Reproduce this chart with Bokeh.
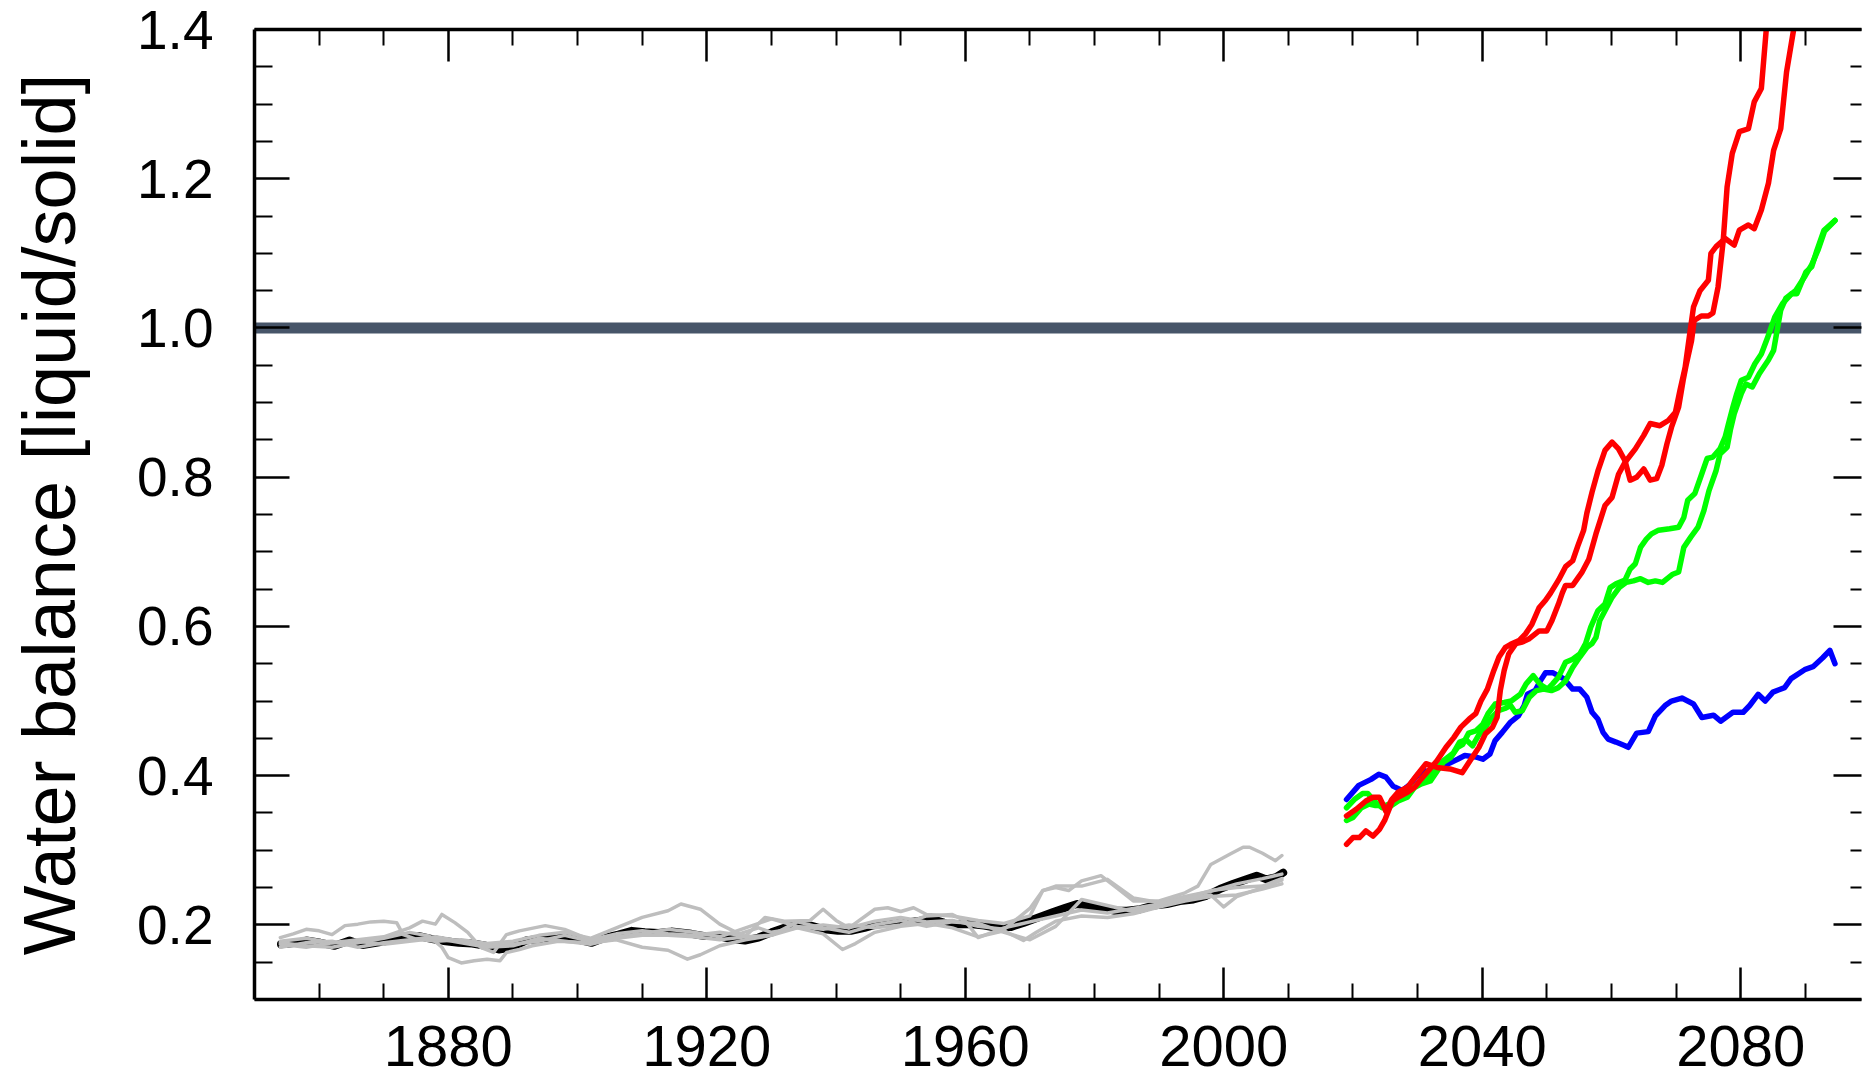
from bokeh.plotting import figure
from bokeh.models import (Range1d, FixedTicker, LinearAxis, Span, PrintfTickFormatter,
                          CustomLabelingPolicy)
from bokeh.embed import file_html
from bokeh.resources import INLINE

# ---------------- data ----------------
x_major = [1880, 1920, 1960, 2000, 2040, 2080]
x_minor = [1860, 1870, 1890, 1900, 1910, 1930, 1940, 1950, 1970, 1980, 1990,
           2010, 2020, 2030, 2050, 2060, 2070, 2090, 2100]
y_major = [0.2, 0.4, 0.6, 0.8, 1.0, 1.2, 1.4]
y_minor = [0.1, 0.15, 0.25, 0.3, 0.35, 0.45, 0.5, 0.55, 0.65, 0.7, 0.75, 0.85,
           0.9, 0.95, 1.05, 1.1, 1.15, 1.25, 1.3, 1.35]
threshold = 1.0

black_mean = [(1854.1, 0.174), (1856.5, 0.176), (1858.0, 0.179), (1860.2, 0.176), (1862.4, 0.172),
              (1864.7, 0.179), (1866.7, 0.173), (1868.8, 0.176), (1870.8, 0.179), (1872.9, 0.183),
              (1875.5, 0.185), (1877.5, 0.181), (1879.6, 0.178), (1881.6, 0.176), (1883.7, 0.175),
              (1885.8, 0.172), (1887.8, 0.167), (1889.9, 0.170), (1892.0, 0.179), (1894.0, 0.181),
              (1896.0, 0.182), (1898.1, 0.183), (1900.2, 0.180), (1902.2, 0.176), (1904.3, 0.183),
              (1906.3, 0.187), (1908.4, 0.192), (1910.4, 0.190), (1912.5, 0.189), (1914.5, 0.191),
              (1917.6, 0.188), (1919.7, 0.185), (1921.8, 0.185), (1923.8, 0.181), (1925.9, 0.179),
              (1928.0, 0.183), (1930.0, 0.190), (1932.0, 0.196), (1934.1, 0.201), (1936.1, 0.199),
              (1938.2, 0.194), (1940.3, 0.192), (1942.3, 0.192), (1944.4, 0.196), (1946.4, 0.201),
              (1948.5, 0.203), (1950.5, 0.203), (1952.6, 0.205), (1954.7, 0.208), (1956.7, 0.203),
              (1958.8, 0.201), (1960.8, 0.201), (1962.9, 0.199), (1964.9, 0.196), (1967.0, 0.197),
              (1969.1, 0.203), (1971.3, 0.210), (1973.5, 0.217), (1975.5, 0.223), (1977.3, 0.228),
              (1978.8, 0.226), (1980.9, 0.223), (1983.0, 0.219), (1985.0, 0.219), (1987.1, 0.221),
              (1989.1, 0.226), (1991.2, 0.228), (1993.2, 0.232), (1995.3, 0.234), (1997.3, 0.239),
              (1999.4, 0.248), (2001.5, 0.255), (2003.5, 0.261), (2005.1, 0.266), (2006.6, 0.261),
              (2008.1, 0.264), (2009.2, 0.270)]

grey_1 = [(1854, 0.183), (1856, 0.188), (1858, 0.194), (1860, 0.192), (1862, 0.187), (1864, 0.199),
          (1866, 0.201), (1868, 0.204), (1870, 0.205), (1872, 0.203), (1873, 0.187), (1875, 0.181),
          (1878, 0.178), (1882, 0.180), (1886, 0.175), (1890, 0.178), (1894, 0.186), (1898, 0.190),
          (1902, 0.182), (1906, 0.196), (1910, 0.210), (1914, 0.219), (1916, 0.228), (1919, 0.221),
          (1922, 0.201), (1925, 0.188), (1928, 0.196), (1930, 0.190), (1934, 0.196), (1938, 0.200),
          (1942, 0.196), (1946, 0.205), (1950, 0.210), (1954, 0.204), (1958, 0.206), (1962, 0.198),
          (1966, 0.194), (1970, 0.222), (1972, 0.246), (1974, 0.250), (1976, 0.246), (1978, 0.259),
          (1981, 0.266), (1984, 0.246), (1986, 0.232), (1990, 0.232), (1994, 0.243), (1996, 0.252),
          (1998, 0.281), (2001, 0.295), (2003, 0.304), (2004, 0.304), (2006, 0.296), (2008, 0.286),
          (2009, 0.293)]
grey_2 = [(1854, 0.178), (1858, 0.182), (1862, 0.176), (1866, 0.180), (1870, 0.184), (1874, 0.196),
          (1876, 0.205), (1878, 0.201), (1879, 0.214), (1881, 0.203), (1883, 0.190), (1885, 0.170),
          (1887, 0.163), (1889, 0.187), (1891, 0.192), (1895, 0.199), (1898, 0.194), (1902, 0.180),
          (1906, 0.188), (1910, 0.192), (1914, 0.188), (1918, 0.186), (1922, 0.190), (1926, 0.185),
          (1929, 0.210), (1932, 0.205), (1936, 0.206), (1938, 0.221), (1940, 0.206), (1942, 0.196),
          (1946, 0.221), (1948, 0.223), (1950, 0.218), (1952, 0.223), (1954, 0.214), (1958, 0.212),
          (1962, 0.206), (1966, 0.202), (1970, 0.212), (1972, 0.246), (1974, 0.252), (1978, 0.252),
          (1982, 0.261), (1986, 0.236), (1990, 0.230), (1994, 0.238), (1998, 0.245), (2002, 0.255),
          (2006, 0.262), (2009, 0.268)]
grey_3 = [(1854, 0.176), (1858, 0.172), (1862, 0.170), (1866, 0.176), (1870, 0.182), (1874, 0.190),
          (1877, 0.185), (1879, 0.170), (1880, 0.156), (1882, 0.149), (1884, 0.152), (1886, 0.154),
          (1888, 0.152), (1889, 0.163), (1891, 0.167), (1893, 0.172), (1897, 0.178), (1902, 0.176),
          (1906, 0.180), (1910, 0.170), (1914, 0.166), (1917, 0.154), (1919, 0.160), (1922, 0.172),
          (1926, 0.180), (1930, 0.186), (1934, 0.196), (1938, 0.188), (1941, 0.167), (1943, 0.175),
          (1946, 0.190), (1950, 0.198), (1954, 0.202), (1958, 0.196), (1962, 0.184), (1966, 0.192),
          (1969, 0.179), (1971, 0.190), (1974, 0.205), (1978, 0.212), (1982, 0.210), (1986, 0.215),
          (1990, 0.224), (1994, 0.232), (1998, 0.238), (2002, 0.240), (2006, 0.248), (2009, 0.255)]
grey_4 = [(1854, 0.170), (1858, 0.176), (1862, 0.178), (1866, 0.170), (1870, 0.176), (1874, 0.180),
          (1878, 0.184), (1882, 0.178), (1886, 0.172), (1890, 0.174), (1894, 0.178), (1898, 0.186),
          (1902, 0.178), (1906, 0.184), (1910, 0.188), (1914, 0.194), (1918, 0.190), (1922, 0.184),
          (1926, 0.196), (1930, 0.208), (1934, 0.198), (1938, 0.194), (1942, 0.200), (1946, 0.196),
          (1950, 0.200), (1954, 0.212), (1958, 0.214), (1960, 0.205), (1962, 0.183), (1966, 0.196),
          (1970, 0.204), (1974, 0.212), (1978, 0.220), (1982, 0.216), (1986, 0.222), (1990, 0.228),
          (1994, 0.236), (1998, 0.246), (2002, 0.250), (2006, 0.252), (2009, 0.262)]
grey_5 = [(1854, 0.174), (1858, 0.170), (1862, 0.176), (1866, 0.178), (1870, 0.174), (1874, 0.178),
          (1878, 0.182), (1882, 0.176), (1886, 0.170), (1890, 0.172), (1894, 0.182), (1898, 0.178),
          (1902, 0.174), (1906, 0.182), (1910, 0.186), (1914, 0.186), (1918, 0.184), (1922, 0.180),
          (1926, 0.184), (1930, 0.186), (1934, 0.204), (1938, 0.196), (1942, 0.190), (1946, 0.200),
          (1950, 0.206), (1954, 0.198), (1958, 0.204), (1962, 0.202), (1966, 0.190), (1970, 0.180),
          (1974, 0.198), (1978, 0.234), (1982, 0.226), (1986, 0.218), (1990, 0.226), (1994, 0.236),
          (1998, 0.240), (2000, 0.224), (2002, 0.238), (2006, 0.250), (2009, 0.260)]

blue_low = [(2019.0, 0.368), (2020.9, 0.387), (2022.8, 0.395), (2024.0, 0.402), (2025.1, 0.398),
            (2026.2, 0.386), (2027.6, 0.380), (2028.8, 0.388), (2030.1, 0.402), (2030.9, 0.407),
            (2032.0, 0.404), (2033.1, 0.411), (2034.5, 0.415), (2036.2, 0.422), (2037.3, 0.427),
            (2039.0, 0.425), (2040.1, 0.422), (2041.2, 0.429), (2042.0, 0.447), (2043.1, 0.458),
            (2044.3, 0.471), (2045.6, 0.480), (2046.5, 0.494), (2047.0, 0.509), (2048.2, 0.514),
            (2049.0, 0.527), (2049.8, 0.538), (2050.9, 0.538), (2052.6, 0.530), (2054.0, 0.516),
            (2055.1, 0.516), (2056.2, 0.505), (2057.0, 0.485), (2057.9, 0.476), (2058.7, 0.458),
            (2059.5, 0.449), (2060.7, 0.445), (2062.1, 0.440), (2062.6, 0.438), (2063.9, 0.457),
            (2065.7, 0.459), (2066.8, 0.480), (2068.3, 0.494), (2069.3, 0.500), (2070.9, 0.504),
            (2072.7, 0.496), (2074.0, 0.478), (2075.8, 0.481), (2076.9, 0.473), (2078.8, 0.485),
            (2080.4, 0.485), (2081.4, 0.494), (2082.7, 0.509), (2083.8, 0.500), (2085.0, 0.512),
            (2086.8, 0.518), (2087.8, 0.530), (2089.9, 0.542), (2091.2, 0.546), (2092.7, 0.558),
            (2093.8, 0.568), (2094.6, 0.550)]

green_1 = [(2019.0, 0.357), (2020.2, 0.368), (2021.5, 0.376), (2022.3, 0.376), (2023.3, 0.366),
           (2024.5, 0.357), (2025.8, 0.359), (2027.0, 0.366), (2028.4, 0.371), (2029.5, 0.384),
           (2030.6, 0.389), (2032.0, 0.393), (2033.1, 0.407), (2034.0, 0.418), (2035.1, 0.424),
           (2036.2, 0.438), (2037.0, 0.442), (2037.9, 0.457), (2039.0, 0.460), (2040.1, 0.469),
           (2040.9, 0.483), (2042.0, 0.496), (2043.4, 0.498), (2044.5, 0.500), (2045.9, 0.509),
           (2046.8, 0.523), (2047.9, 0.534), (2049.0, 0.522), (2050.1, 0.516), (2050.9, 0.523),
           (2051.8, 0.532), (2052.9, 0.552), (2054.0, 0.556), (2055.1, 0.563), (2056.0, 0.577),
           (2056.8, 0.599), (2057.9, 0.621), (2059.0, 0.630), (2059.8, 0.652), (2060.7, 0.657),
           (2062.1, 0.662), (2062.9, 0.677), (2063.7, 0.684), (2064.5, 0.706), (2065.4, 0.717),
           (2066.2, 0.724), (2067.3, 0.729), (2069.0, 0.731), (2070.4, 0.733), (2071.2, 0.746),
           (2071.8, 0.769), (2072.9, 0.778), (2074.0, 0.805), (2074.8, 0.825), (2075.7, 0.827),
           (2076.8, 0.838), (2077.6, 0.854), (2078.1, 0.871), (2078.8, 0.894), (2079.4, 0.912),
           (2080.1, 0.930), (2081.2, 0.934), (2082.2, 0.952), (2083.2, 0.965), (2084.2, 0.988),
           (2085.3, 1.015), (2086.5, 1.033), (2087.9, 1.046), (2088.7, 1.046), (2090.1, 1.075),
           (2091.0, 1.082), (2091.8, 1.104), (2092.9, 1.131), (2094.6, 1.144)]
green_2 = [(2019.0, 0.340), (2020.0, 0.344), (2021.3, 0.357), (2022.5, 0.362), (2023.5, 0.360),
           (2025.0, 0.360), (2026.5, 0.365), (2028.0, 0.375), (2029.5, 0.385), (2031.0, 0.395),
           (2032.5, 0.405), (2034.0, 0.420), (2035.5, 0.430), (2036.5, 0.445), (2037.5, 0.448),
           (2038.5, 0.440), (2039.5, 0.455), (2040.5, 0.465), (2041.5, 0.478), (2042.5, 0.487),
           (2043.5, 0.490), (2044.4, 0.494), (2045.1, 0.485), (2046.2, 0.487), (2047.3, 0.505),
           (2048.4, 0.514), (2049.5, 0.516), (2050.7, 0.514), (2051.8, 0.518), (2052.9, 0.527),
           (2054.0, 0.545), (2055.1, 0.559), (2056.2, 0.572), (2057.0, 0.577), (2057.6, 0.585),
           (2058.2, 0.608), (2059.0, 0.621), (2060.1, 0.639), (2061.2, 0.652), (2062.3, 0.659),
           (2063.4, 0.661), (2064.5, 0.664), (2065.7, 0.659), (2066.8, 0.661), (2067.9, 0.659),
           (2069.5, 0.670), (2070.4, 0.673), (2071.2, 0.706), (2072.3, 0.720), (2073.4, 0.733),
           (2074.3, 0.755), (2075.1, 0.782), (2076.2, 0.809), (2076.8, 0.831), (2077.9, 0.840),
           (2078.4, 0.863), (2079.0, 0.885), (2080.1, 0.912), (2080.8, 0.925), (2081.8, 0.921),
           (2082.9, 0.939), (2084.3, 0.957), (2085.1, 0.970), (2086.2, 1.024), (2087.0, 1.040),
           (2088.5, 1.050), (2090.0, 1.070), (2091.0, 1.085), (2092.0, 1.105), (2093.0, 1.130),
           (2094.6, 1.144)]

red_1 = [(2019.0, 0.346), (2020.5, 0.355), (2022.0, 0.366), (2023.1, 0.371), (2024.1, 0.371),
         (2024.6, 0.362), (2025.1, 0.352), (2026.0, 0.368), (2027.0, 0.378), (2028.5, 0.385),
         (2030.0, 0.402), (2031.3, 0.416), (2033.0, 0.411), (2035.0, 0.409), (2036.9, 0.404),
         (2038.5, 0.425), (2039.5, 0.438), (2040.5, 0.456), (2041.6, 0.465), (2042.3, 0.478),
         (2042.8, 0.514), (2043.4, 0.541), (2044.1, 0.563), (2045.2, 0.577), (2046.2, 0.579),
         (2047.2, 0.583), (2048.8, 0.594), (2050.0, 0.594), (2050.8, 0.608), (2051.8, 0.630),
         (2052.4, 0.645), (2052.9, 0.655), (2054.0, 0.655), (2055.4, 0.672), (2056.5, 0.690),
         (2057.6, 0.724), (2059.0, 0.762), (2060.1, 0.773), (2061.1, 0.804), (2062.1, 0.820),
         (2063.7, 0.838), (2065.0, 0.856), (2066.0, 0.872), (2067.5, 0.869), (2068.8, 0.876),
         (2069.9, 0.887), (2070.6, 0.916), (2071.4, 0.947), (2072.2, 0.997), (2072.7, 1.028),
         (2073.7, 1.050), (2075.0, 1.064), (2075.4, 1.100), (2076.2, 1.109), (2077.6, 1.120),
         (2079.0, 1.111), (2079.8, 1.131), (2081.2, 1.138), (2082.1, 1.133), (2083.2, 1.158),
         (2084.3, 1.194), (2085.1, 1.238), (2086.2, 1.267), (2087.1, 1.343), (2088.2, 1.400),
         (2089.0, 1.450)]
red_2 = [(2019.0, 0.308), (2020.0, 0.317), (2021.0, 0.317), (2022.0, 0.326), (2023.1, 0.319),
         (2024.1, 0.328), (2024.9, 0.340), (2026.1, 0.366), (2027.2, 0.372), (2028.5, 0.378),
         (2029.5, 0.384), (2030.5, 0.395), (2031.5, 0.405), (2033.0, 0.420), (2034.4, 0.438),
         (2035.6, 0.451), (2036.7, 0.465), (2038.0, 0.476), (2039.0, 0.483), (2039.8, 0.500),
         (2040.8, 0.516), (2041.8, 0.541), (2042.6, 0.559), (2043.6, 0.572), (2044.4, 0.576),
         (2045.7, 0.581), (2046.7, 0.590), (2047.7, 0.603), (2048.8, 0.625), (2049.8, 0.635),
         (2050.6, 0.645), (2051.8, 0.662), (2052.9, 0.680), (2054.0, 0.688), (2054.8, 0.708),
         (2055.7, 0.729), (2056.2, 0.752), (2057.0, 0.780), (2057.9, 0.808), (2059.0, 0.836),
         (2060.1, 0.847), (2061.1, 0.838), (2062.1, 0.822), (2062.9, 0.796), (2063.9, 0.800),
         (2065.0, 0.811), (2066.0, 0.796), (2067.0, 0.798), (2067.8, 0.816), (2068.6, 0.845),
         (2069.3, 0.867), (2070.4, 0.894), (2071.1, 0.930), (2071.6, 0.952), (2072.4, 0.983),
         (2072.8, 1.010), (2073.9, 1.016), (2075.0, 1.016), (2075.7, 1.020), (2076.5, 1.055),
         (2077.3, 1.117), (2077.9, 1.189), (2078.7, 1.234), (2079.8, 1.263), (2081.2, 1.267),
         (2082.1, 1.303), (2083.2, 1.321), (2084.0, 1.404), (2084.6, 1.450)]

# ---------------- figure ----------------
FONT = "Liberation Sans"
p = figure(width=1865, height=1091,
           x_range=Range1d(1850, 2098.7), y_range=Range1d(0.1, 1.4),
           output_backend="svg", toolbar_location=None,
           min_border_left=254, min_border_right=0, min_border_top=29, min_border_bottom=92)
p.background_fill_color = "white"
p.border_fill_color = "white"
p.outline_line_color = None
p.xgrid.grid_line_color = None
p.ygrid.grid_line_color = None

xt = FixedTicker(ticks=x_major, minor_ticks=x_minor)
yt = FixedTicker(ticks=y_major, minor_ticks=y_minor)
no_labels = CustomLabelingPolicy(code="return new Set()")

def style_axis(ax, ticker, tin=32, tmin=16):
    ax.ticker = ticker
    ax.major_tick_in = tin
    ax.major_tick_out = 0
    ax.minor_tick_in = tmin
    ax.minor_tick_out = 0
    ax.major_tick_line_width = 2.5
    ax.minor_tick_line_width = 2
    ax.major_tick_line_color = "black"
    ax.minor_tick_line_color = "black"
    ax.axis_line_width = 3.5
    ax.axis_line_color = "black"
    ax.major_label_text_font = FONT
    ax.major_label_text_color = "black"

xa = p.xaxis[0]
style_axis(xa, xt)
xa.major_label_text_font_size = "58px"
xa.major_label_standoff = 26

ya = p.yaxis[0]
style_axis(ya, yt, tin=35, tmin=18)
ya.major_label_text_font_size = "55px"
ya.major_label_standoff = 41
ya.formatter = PrintfTickFormatter(format="%.1f")
ya.axis_label = "Water balance [liquid/solid]"
ya.axis_label_text_font = FONT
ya.axis_label_text_font_size = "74px"
ya.axis_label_text_font_style = "normal"
ya.axis_label_text_color = "black"
ya.axis_label_standoff = 43

top_ax = LinearAxis(major_label_policy=no_labels, major_label_standoff=0)
style_axis(top_ax, xt)
top_ax.major_label_text_font_size = "1px"
p.add_layout(top_ax, "above")

right_ax = LinearAxis(major_label_policy=no_labels, major_label_standoff=0)
style_axis(right_ax, yt, tin=28, tmin=11)
right_ax.major_label_text_font_size = "1px"
right_ax.axis_line_color = None
p.add_layout(right_ax, "right")

p.add_layout(Span(location=threshold, dimension="width", line_color="#475569",
                  line_width=11, level="underlay"))

def draw(series, color, width):
    xs = [a for a, _ in series]
    ys = [b for _, b in series]
    p.line(xs, ys, line_color=color, line_width=width, line_join="round", line_cap="round")

draw(black_mean, "black", 8)
for g in (grey_1, grey_2, grey_3, grey_4, grey_5):
    draw(g, "#bebebe", 3.5)
draw(blue_low, "#0000ff", 5.5)
draw(green_1, "#00ff00", 5.5)
draw(green_2, "#00ff00", 5.5)
draw(red_1, "#ff0000", 5.5)
draw(red_2, "#ff0000", 5.5)

open("out.html", "w").write(file_html(p, INLINE))
